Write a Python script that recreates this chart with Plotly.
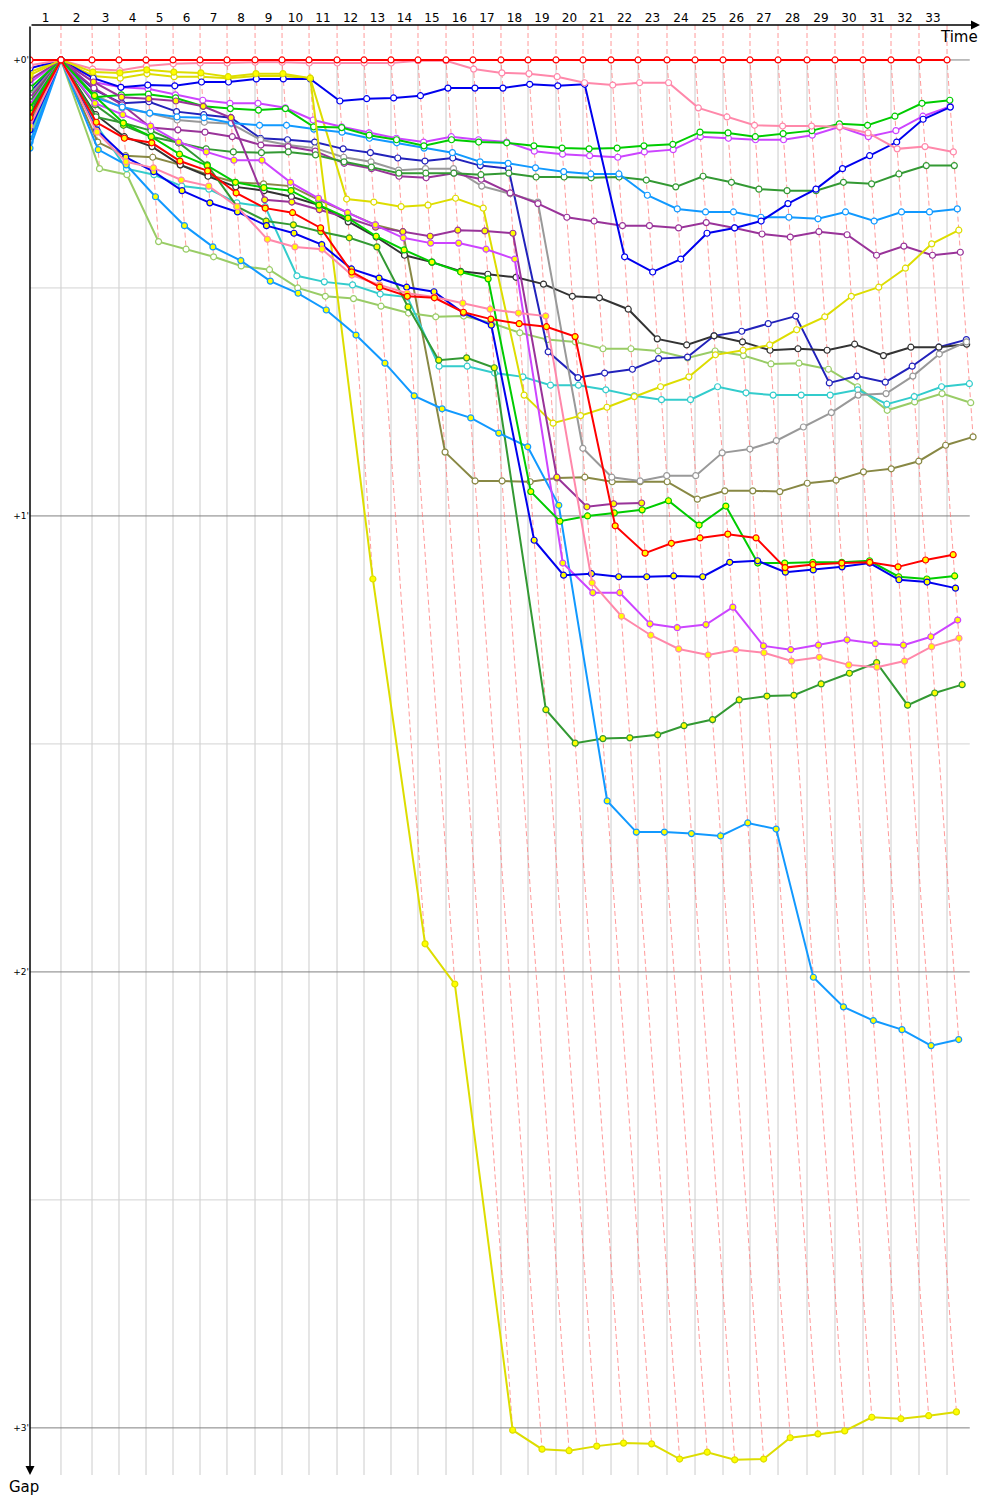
import plotly.graph_objects as go

# Leader's cumulative time (s) at the end of each lap 1..33
lap_end_times = [59.0, 118.1, 169.5, 221.0, 272.4, 323.8, 375.2, 428.6, 480.0, 531.4,
                 584.8, 636.2, 687.6, 739.0, 792.4, 843.8, 897.1, 948.6, 1001.9, 1053.3,
                 1106.7, 1158.1, 1213.3, 1266.7, 1320.0, 1371.4, 1424.8, 1480.0, 1533.3,
                 1586.7, 1640.0, 1693.3, 1746.7]
lap_labels = ["1", "2", "3", "4", "5", "6", "7", "8", "9", "10", "11", "12", "13", "14", "15",
              "16", "17", "18", "19", "20", "21", "22", "23", "24", "25", "26", "27", "28",
              "29", "30", "31", "32", "33"]
gap_major = [0, 60, 120, 180]
gap_major_labels = ["+0'", "+1'", "+2'", "+3'"]
gap_minor = [30, 90, 150]

# Gaps to leader in seconds, lap 0 (start) .. last completed lap
red_a = [0, 0, 0, 0, 0, 0, 0, 0, 0, 0, 0, 0, 0, 0, 0, 0, 0, 0, 0, 0, 0, 0, 0, 0, 0, 0, 0, 0, 0, 0, 0, 0, 0, 0]
pink_a = [0.7, 0, 1.2, 1.4, 0.8, 0.5, 0.4, 0.4, 0.3, 0.3, 0.4,
          0.4, 0.4, 0.4, 0.1, 0.1, 1.2, 1.7, 1.8, 2.2, 3.0, 3.3,
          3.0, 3.0, 6.3, 7.5, 8.6, 8.7, 8.7, 8.8, 9.6, 11.7, 11.4, 12.1]
blue_a = [1.1, 0, 2.4, 3.6, 3.3, 3.4, 2.9, 2.9, 2.5, 2.5, 2.5,
          5.4, 5.1, 5.0, 4.7, 3.7, 3.7, 3.7, 3.2, 3.4, 3.2, 25.9,
          27.9, 26.2, 22.8, 22.1, 21.2, 18.9, 17.0, 14.3, 12.6, 10.8, 7.8, 6.2]
lime_a = [3.7, 0, 4.9, 4.6, 4.5, 5.0, 6.1, 6.4, 6.6, 6.4, 8.8,
          8.9, 9.9, 10.5, 11.3, 10.5, 10.8, 10.9, 11.3, 11.6, 11.7, 11.6,
          11.3, 11.1, 9.5, 9.6, 10.1, 9.7, 9.3, 8.4, 8.6, 7.4, 5.7, 5.3]
violet_a = [3.0, 0, 2.9, 3.6, 3.8, 4.6, 5.3, 5.7, 5.7, 6.3, 7.9,
            8.8, 9.6, 10.3, 10.8, 10.1, 10.5, 10.8, 12.0, 12.4, 12.6, 12.8,
            12.1, 11.8, 10.1, 10.3, 10.5, 10.5, 9.9, 8.8, 10.1, 9.3, 7.4, 6.1]
dodger_a = [10.8, 0, 4.9, 6.2, 7.0, 7.5, 7.6, 8.3, 8.6, 8.6, 9.1,
            9.5, 10.3, 10.9, 11.6, 12.2, 13.4, 13.6, 14.2, 14.7, 15.0, 15.0,
            17.8, 19.6, 20.0, 20.0, 20.7, 20.7, 20.9, 20.0, 21.2, 20.0, 20.0, 19.6]
forest_a = [5.5, 0, 7.5, 8.3, 9.3, 10.9, 11.7, 12.1, 12.2, 12.1, 12.5,
            13.4, 14.1, 14.9, 14.9, 14.9, 15.1, 14.9, 15.4, 15.4, 15.5, 15.4,
            15.8, 16.7, 15.3, 16.1, 17.0, 17.2, 17.2, 16.1, 16.3, 15.0, 13.9, 13.9]
yellow_a = [1.6, 0, 2.1, 2.4, 1.8, 2.2, 2.2, 2.4, 2.1, 2.1, 2.4,
            18.3, 18.7, 19.3, 19.1, 18.2, 19.5, 44.1, 47.8, 46.8, 45.7, 44.3,
            43.0, 41.7, 38.8, 38.2, 37.5, 35.5, 33.8, 31.1, 29.9, 27.4, 24.2, 22.4]
purple_a = [5.0, 0, 3.7, 5.9, 8.9, 9.2, 9.5, 10.1, 11.2, 11.4, 12.0,
            13.6, 14.3, 15.3, 15.5, 14.9, 15.7, 17.5, 18.9, 20.7, 21.2, 21.8,
            21.8, 22.1, 21.4, 22.1, 22.9, 23.3, 22.6, 23.0, 25.7, 24.5, 25.7, 25.3]
gray_a = [4.6, 0, 4.6, 6.3, 7.0, 7.9, 8.2, 8.4, 10.5, 11.2, 11.6,
          12.8, 13.4, 14.5, 14.3, 14.3, 16.6, 17.6, 18.7, 51.1, 54.9, 55.4,
          54.7, 54.7, 51.7, 51.2, 50.1, 48.3, 46.4, 44.1, 43.9, 41.6, 38.7, 37.1]
black_a = [7.2, 0, 7.2, 10.1, 11.4, 13.8, 15.3, 16.7, 17.2, 18.0, 19.1,
           21.3, 23.3, 25.7, 26.6, 27.8, 28.2, 28.6, 29.5, 31.1, 31.3, 32.8,
           36.7, 37.5, 36.3, 37.1, 38.2, 38.0, 38.2, 37.4, 38.9, 37.8, 37.8, 37.4]
navy_a = [4.2, 0, 3.9, 5.7, 5.5, 6.8, 7.2, 7.6, 10.3, 10.5, 10.8,
          11.7, 12.2, 12.9, 13.3, 12.9, 13.9, 14.3, 38.4, 41.8, 41.2, 40.7,
          39.3, 39.1, 36.3, 35.7, 34.7, 33.7, 42.5, 41.6, 42.4, 40.3, 37.8, 36.8]
cyan_a = [9.7, 0, 8.6, 14.3, 15.1, 16.6, 17.0, 18.8, 19.3, 28.4, 29.2,
          29.6, 30.8, 31.2, 40.3, 40.3, 41.2, 41.7, 42.8, 42.8, 43.4, 44.2,
          44.7, 44.7, 43.0, 43.8, 44.1, 44.1, 44.1, 43.4, 45.3, 44.3, 43.0, 42.6]
ygreen_a = [10.3, 0, 14.3, 15.1, 23.9, 24.9, 25.9, 27.1, 27.6, 30.0, 31.1,
            31.4, 32.4, 33.3, 33.8, 33.7, 34.6, 35.9, 36.8, 37.1, 38.0, 38.0,
            38.3, 39.2, 38.3, 38.9, 40.0, 39.9, 40.7, 43.0, 46.1, 45.0, 43.9, 45.1]
olive_a = [8.2, 0, 10.8, 12.6, 12.8, 13.8, 15.1, 16.1, 16.3, 16.6, 18.4,
           20.1, 21.7, 22.6, 51.6, 55.4, 55.4, 55.5, 55.0, 54.9, 55.5, 55.5,
           55.5, 57.8, 56.7, 56.7, 56.8, 55.7, 55.3, 54.2, 53.8, 52.8, 50.7, 49.6]

red_b = [7.6, 0, 8.2, 10.3, 10.9, 13.3, 14.6, 17.5, 19.5, 20.1, 22.1,
         27.9, 29.9, 31.1, 31.3, 33.2, 34.1, 34.7, 35.1, 36.4, 61.3, 64.9,
         63.6, 62.9, 62.4, 62.9, 66.8, 66.4, 66.2, 66.1, 66.7, 65.8, 65.1]
pink_b = [8.7, 0, 9.5, 13.4, 14.2, 15.8, 16.6, 19.3, 23.6, 24.6, 24.9,
          28.3, 29.6, 30.7, 31.2, 32.0, 32.8, 33.3, 33.7, 68.8, 73.2, 75.7,
          77.5, 78.3, 77.6, 78.0, 79.1, 78.6, 79.6, 79.9, 79.1, 77.2, 76.1]
blue_b = [9.2, 0, 9.2, 12.8, 14.7, 17.2, 18.8, 20.0, 21.8, 22.8, 24.3,
          27.5, 28.7, 29.9, 30.5, 33.3, 34.9, 63.2, 67.8, 67.6, 68.0, 68.0,
          67.9, 68.0, 66.1, 65.9, 67.4, 67.1, 66.7, 66.2, 68.4, 68.7, 69.5]
lime_b = [6.3, 0, 4.7, 8.3, 10.1, 12.4, 13.9, 16.1, 16.8, 17.2, 19.1,
          20.8, 23.2, 25.0, 26.6, 27.9, 28.8, 56.8, 60.7, 60.0, 59.6, 59.2,
          58.0, 61.2, 58.7, 66.2, 66.2, 66.1, 66.1, 65.9, 68.0, 68.3, 67.9]
violet_b = [5.9, 0, 5.7, 7.2, 8.7, 10.8, 12.1, 13.2, 13.2, 16.1, 18.2,
            20.1, 21.7, 23.4, 24.1, 24.1, 24.9, 26.2, 66.2, 70.1, 70.1, 74.2,
            74.7, 74.3, 72.0, 77.1, 77.6, 77.0, 76.3, 76.8, 77.0, 75.9, 73.7]
dodger_b = [11.6, 0, 11.8, 13.8, 18.0, 21.8, 24.6, 26.4, 29.1, 30.7, 32.9,
            36.2, 39.9, 44.2, 45.9, 47.1, 49.1, 50.9, 58.6, 97.5, 101.6, 101.6,
            101.8, 102.1, 100.4, 101.2, 120.7, 124.6, 126.4, 127.6, 129.7, 128.9]
forest_b = [6.8, 0, 5.9, 8.6, 10.1, 10.9, 13.8, 19.3, 21.2, 21.7, 22.6,
            23.4, 24.6, 32.5, 39.5, 39.2, 40.5, 85.5, 89.9, 89.3, 89.2, 88.8,
            87.6, 86.8, 84.2, 83.7, 83.6, 82.1, 80.7, 79.3, 84.9, 83.3, 82.2]
yellow_b = [2.0, 0, 1.6, 1.7, 1.3, 1.6, 1.7, 2.2, 1.8, 1.8, 2.4,
            68.3, 116.3, 121.6, 180.3, 182.8, 183.0, 182.4, 182.0, 182.1, 184.1, 183.2,
            184.2, 184.1, 181.3, 180.8, 180.4, 178.6, 178.8, 178.4, 177.9]
purple_b = [2.6, 0, 2.9, 4.9, 5.1, 5.4, 6.1, 7.6, 18.4, 18.7, 19.7,
            20.8, 22.0, 22.6, 23.2, 22.4, 22.5, 22.8, 54.9, 58.8, 58.4, 58.3]

# (gaps, line colour, marker fill)
series = [
    (olive_a, "#888844", "white"), (ygreen_a, "#99cc66", "white"), (cyan_a, "#33cccc", "white"),
    (navy_a, "#2222bb", "white"), (black_a, "#333333", "white"), (gray_a, "#999999", "white"),
    (purple_a, "#993399", "white"), (yellow_a, "#dddd00", "white"), (forest_a, "#339933", "white"),
    (dodger_a, "#1199ff", "white"), (violet_a, "#cc44ff", "white"), (lime_a, "#00cc00", "white"),
    (blue_a, "#0000ee", "white"), (pink_a, "#ff88aa", "white"),
    (purple_b, "#993399", "#ffff00"), (yellow_b, "#dddd00", "#ffff00"), (forest_b, "#339933", "#ffff00"),
    (dodger_b, "#1199ff", "#ffff00"), (violet_b, "#cc44ff", "#ffff00"), (lime_b, "#00cc00", "#ffff00"),
    (blue_b, "#0000ee", "#ffff00"), (pink_b, "#ff88aa", "#ffff00"), (red_b, "#ff0000", "#ffff00"),
    (red_a, "#ff0000", "white"),
]

Y_TOP = -4.6
Y_BOTTOM = 186.2
X_MAX = 1809.5
X_LINE_END = 1790.0


def times_of(gaps):
    # start at time 0, then lap n is completed at leader time + gap
    xs = [0.0]
    for n in range(1, len(gaps)):
        xs.append(lap_end_times[n - 1] + gaps[n])
    return xs


fig = go.Figure()

# pink dashed lap lines joining each driver's completion of the same lap
lx, ly = [], []
for n in range(1, len(lap_end_times) + 1):
    pts = sorted((g[n], lap_end_times[n - 1] + g[n]) for g, _, _ in series if len(g) > n)
    lx += [lap_end_times[n - 1]] + [p[1] for p in pts] + [None]
    ly += [Y_TOP] + [p[0] for p in pts] + [None]
fig.add_trace(go.Scatter(x=lx, y=ly, mode="lines",
                         line=dict(color="rgba(255,120,120,0.75)", width=1, dash="5px,3px"),
                         hoverinfo="skip", showlegend=False))

for gaps, color, fill in series:
    fig.add_trace(go.Scatter(
        x=times_of(gaps), y=gaps, mode="lines+markers",
        line=dict(color=color, width=2),
        marker=dict(size=6, color=fill, line=dict(color=color, width=1.2)),
        showlegend=False))

shapes = []
for t in lap_end_times:
    shapes.append(dict(type="line", xref="x", yref="y", x0=t, x1=t, y0=0, y1=Y_BOTTOM,
                       line=dict(color="#cccccc", width=1), layer="below"))
for g in gap_minor:
    shapes.append(dict(type="line", xref="x", yref="y", x0=0, x1=X_LINE_END, y0=g, y1=g,
                       line=dict(color="#d3d3d3", width=1), layer="below"))
for g in gap_major:
    shapes.append(dict(type="line", xref="x", yref="y", x0=0, x1=X_LINE_END, y0=g, y1=g,
                       line=dict(color="#808080", width=1), layer="below"))

mids = [(a + b) / 2 for a, b in zip([0.0] + lap_end_times[:-1], lap_end_times)]

annotations = [
    dict(xref="paper", yref="paper", x=1, y=1, ax=-950, ay=0, text="", showarrow=True,
         arrowhead=2, arrowsize=1.2, arrowwidth=1.5, arrowcolor="black", standoff=0),
    dict(xref="paper", yref="paper", x=0, y=0, ax=0, ay=-1450, text="", showarrow=True,
         arrowhead=2, arrowsize=1.2, arrowwidth=1.5, arrowcolor="black", standoff=0),
    dict(xref="paper", yref="paper", x=1, y=1, xanchor="right", yanchor="top", yshift=-1,
         text="Time", showarrow=False, font=dict(size=15, color="black")),
    dict(xref="paper", yref="paper", x=0, y=0, xanchor="center", yanchor="top", xshift=-6,
         yshift=-1, text="Gap", showarrow=False, font=dict(size=15, color="black")),
]

fig.update_layout(
    width=1000, height=1500,
    margin=dict(l=30, r=20, t=25, b=25, autoexpand=False),
    paper_bgcolor="white", plot_bgcolor="white",
    font=dict(family="DejaVu Sans, Verdana, sans-serif", color="black"),
    shapes=shapes, annotations=annotations, showlegend=False,
    xaxis=dict(range=[0, X_MAX], side="top", tickvals=mids, ticktext=lap_labels,
               showgrid=False, zeroline=False, ticks="", showline=False, automargin=False,
               tickfont=dict(size=12)),
    yaxis=dict(range=[Y_BOTTOM, Y_TOP], tickvals=gap_major, ticktext=gap_major_labels,
               showgrid=False, zeroline=False, ticks="", showline=False, automargin=False,
               tickfont=dict(size=9)),
)

fig.write_html("out.html", config={"displayModeBar": False},
               post_script="document.body.style.margin='0';document.body.style.padding='0';")
